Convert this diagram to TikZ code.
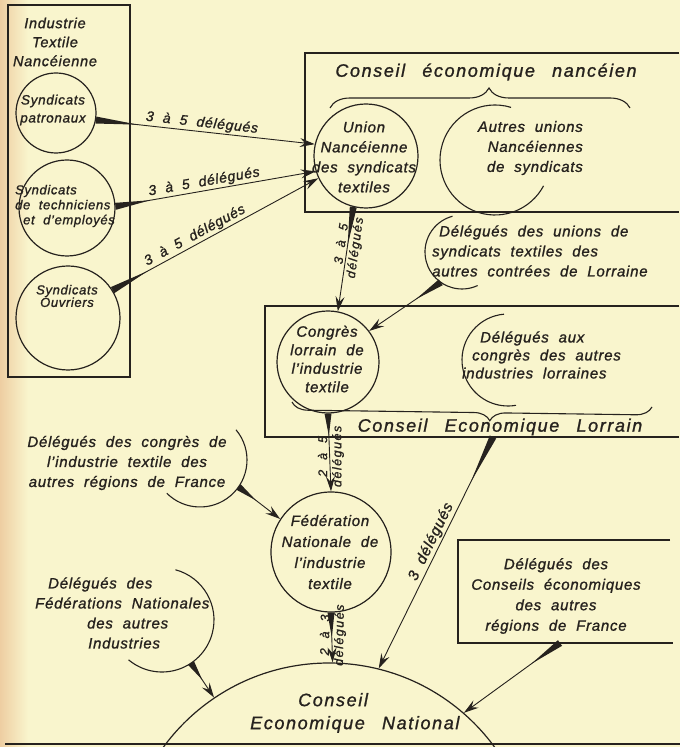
\documentclass[tikz,border=0pt]{standalone}
\usepackage{fontspec}
\setmainfont{Liberation Sans}
\newfontfamily\hand{Liberation Sans}[LetterSpace=5,WordSpace=2,FakeBold=1.2]
\newfontfamily\handwide{Liberation Sans}[LetterSpace=9,WordSpace=2.6,FakeBold=1.2]
\newfontfamily\handtall{Liberation Sans}[LetterSpace=12,WordSpace=2,FakeBold=1.2]
\usetikzlibrary{calc,arrows.meta,decorations.pathreplacing}
\definecolor{paper}{RGB}{249,245,205}
\definecolor{ink}{RGB}{38,34,30}
\definecolor{tint}{RGB}{238,206,162}
\newcommand\taper[3]{\fill[ink] ($(#1)!3.5pt!90:(#2)$) -- ($(#1)!#3!(#2)$) -- ($(#1)!3.5pt!-90:(#2)$) -- cycle;}
\begin{document}
\begin{tikzpicture}[x=1pt,y=1pt,
  ring/.style={circle,draw=ink,line width=1.2pt,inner sep=0pt},
  frame/.style={draw=ink,line width=1.1pt},
  arcline/.style={draw=ink,line width=1.1pt},
  txt/.style={font=\hand\itshape\fontsize{15}{20}\selectfont, text=ink, align=center, inner sep=0pt},
  small/.style={font=\hand\itshape\fontsize{13.5}{18}\selectfont, text=ink, align=center, inner sep=0pt},
  big/.style={font=\handwide\itshape\fontsize{18}{23}\selectfont, text=ink, align=center, inner sep=0pt},
  lbl/.style={font=\hand\itshape\fontsize{14}{14}\selectfont, text=ink, inner sep=1.5pt},
  vl/.style={font=\handtall\itshape\fontsize{12.5}{12.5}\selectfont, text=ink, inner sep=2pt},
  conn/.style={draw=ink, line width=0.9pt, -{Stealth[length=15pt,width=9pt,inset=5.5pt]}},
]
\useasboundingbox (0,0) rectangle (680,747);
\fill[paper] (0,0) rectangle (680,747);
\shade[left color=tint, right color=paper] (0,0) rectangle (28,747);
\begin{scope}
\clip (0,0) rectangle (680,747);

% frames
\draw[frame] (8,370) rectangle (130,742);
\draw[frame] (679,694) -- (305,694) -- (305,535) -- (679,535);
\draw[frame] (679,441) -- (265,441) -- (265,310) -- (679,310);
\draw[frame] (670,207) -- (458,207) -- (458,104) -- (673,104);
\draw[ink, line width=1.6pt] (5,3) -- (680,3);

% circles
\node[ring, minimum size=80pt] (pat) at (56,634) {};
\node[ring, minimum size=96pt] (tech) at (67,539) {};
\node[ring, minimum size=104pt] (ouvr) at (68,429) {};
\node[ring, minimum size=104pt] (union) at (366,591) {};
\node[ring, minimum size=102pt] (congres) at (328,385) {};
\node[ring, minimum size=120pt] (fed) at (331,195) {};
\node[ring, minimum size=410pt] (nat) at (329,-121) {};

% open arcs
\draw[arcline] (495,587) ++(73:55) arc[start angle=73, end angle=332, radius=55];
\draw[arcline] (462,495) ++(105:37) arc[start angle=105, end angle=295, radius=37];
\draw[arcline] (508,387) ++(95:46) arc[start angle=95, end angle=280, radius=46];
\draw[arcline] (200,287) ++(40:47) arc[start angle=40, end angle=-135, radius=47];
\draw[arcline] (162,127) ++(75:52) arc[start angle=75, end angle=-130, radius=52];
\coordinate (lorrA) at ($(462,495)+(235:37)$);
\coordinate (franceA) at ($(200,287)+(-35:47)$);
\coordinate (fednA) at ($(162,127)+(-56:52)$);
\coordinate (lorrS) at (493,310);
\coordinate (cfrS) at (560,104);

% braces
\draw[arcline, decorate, decoration={brace, amplitude=20pt, aspect=0.53}] (330,639) -- (630,639);
\draw[arcline, decorate, decoration={brace, mirror, amplitude=16pt, aspect=0.55}] (292,345) -- (652,340);

% texts
\node[small, font=\hand\itshape\fontsize{14.5}{19}\selectfont] (tIndus) at (55,705) {Industrie\\Textile\\Nancéienne};
\node[small] (tPat) at (53,637) {Syndicats\\patronaux};
\node[small, font=\hand\itshape\fontsize{13}{15}\selectfont, anchor=west, align=left] (tTech) at (15,541) {Syndicats\\de techniciens\\\hspace*{8pt}et d’employés};
\node[small, font=\hand\itshape\fontsize{13}{12.5}\selectfont] (tOuvr) at (67,451) {Syndicats\\Ouvriers};
\node[big] (tConsN) at (486,675) {Conseil économique nancéien};
\node[txt] (tUnion) at (364,590) {Union\\Nancéienne\\des syndicats\\textiles};
\node[txt, anchor=east, align=right] (tAutres) at (583,599) {Autres unions\\Nancéiennes\\de syndicats};
\node[txt, anchor=west, align=left] (tLorr) at (432,496) {\hspace*{7pt}Délégués des unions de\\syndicats textiles des\\autres contrées de Lorraine};
\node[txt, font=\hand\itshape\fontsize{15}{18.5}\selectfont] (tCongres) at (327,388) {Congrès\\lorrain de\\l’industrie\\textile};
\node[txt, anchor=west, align=left, font=\hand\itshape\fontsize{15}{18}\selectfont] (tInd) at (462,392) {\hspace*{18pt}Délégués aux\\\hspace*{10pt}congrès des autres\\industries lorraines};
\node[big] (tConsL) at (500,320) {Conseil Economique Lorrain};
\node[txt, font=\hand\itshape\fontsize{15}{21}\selectfont] (tFed) at (330,195) {Fédération\\Nationale de\\l’industrie\\textile};
\node[txt] (tFrance) at (127,284) {Délégués des congrès de\\l’industrie textile des\\autres régions de France};
\node[txt, anchor=west, align=left] (tFedN) at (35,134) {\hspace*{13pt}Délégués des\\Fédérations Nationales\\\hspace*{52pt}des autres\\\hspace*{53pt}Industries};
\node[txt, font=\hand\itshape\fontsize{15}{20.5}\selectfont] (tCfr) at (556,151) {Délégués des\\Conseils économiques\\des autres\\régions de France};
\node[big, anchor=west, align=left] (tNat) at (250,34) {\hspace*{48pt}Conseil\\Economique National};

% connectors
\taper{pat.-10}{union.167}{42pt}
\draw[conn] (pat.-10) -- node[lbl, above, sloped, pos=0.48]{3 à 5 délégués} (union.167);
\taper{tech.2}{union.197}{35pt}
\draw[conn] (tech.2) -- node[lbl, above, sloped, pos=0.45]{3 à 5 délégués} (union.197);
\taper{ouvr.32}{union.205}{40pt}
\draw[conn] (ouvr.32) -- node[lbl, above, sloped, pos=0.42]{3 à 5 délégués} (union.205);
\taper{union.256}{congres.79}{38pt}
\draw[conn] (union.256) -- node[vl, anchor=south, rotate=82, pos=0.36]{3 à 5} node[vl, anchor=north, rotate=82, pos=0.38]{délégués} (congres.79);
\taper{lorrA}{congres.37}{30pt}
\draw[conn] (lorrA) -- (congres.37);
\taper{congres.270}{fed.90}{22pt}
\draw[conn] (congres.270) -- node[vl, anchor=south, rotate=90, pos=0.55]{2 à 5} node[vl, anchor=north, rotate=90, pos=0.55]{délégués} (fed.90);
\taper{franceA}{fed.147}{22pt}
\draw[conn] (franceA) -- (fed.147);
\taper{fed.270}{nat.89}{25pt}
\draw[conn] (fed.270) -- node[vl, anchor=south, rotate=89, pos=0.45]{2 à 3} node[vl, anchor=north, rotate=89, pos=0.45]{délégués} (nat.89);
\taper{lorrS}{nat.76}{50pt}
\draw[conn] (lorrS) -- node[lbl, font=\hand\itshape\fontsize{15}{15}\selectfont, anchor=south, rotate=64, pos=0.47]{3 délégués} (nat.76);
\taper{cfrS}{nat.49}{35pt}
\draw[conn] (cfrS) -- (nat.49);
\taper{fednA}{nat.124}{20pt}
\draw[conn] (fednA) -- (nat.124);
\end{scope}
\end{tikzpicture}
\end{document}
